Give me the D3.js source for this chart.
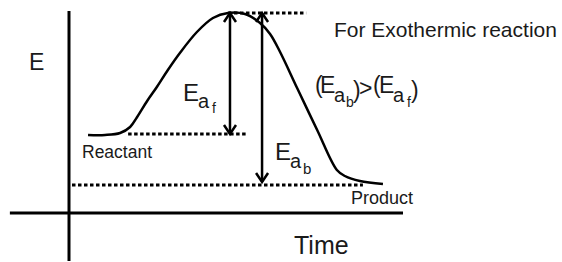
<!DOCTYPE html>
<html>
<head>
<meta charset="utf-8">
<script src="https://cdn.jsdelivr.net/npm/d3@7"></script>
<style>
  body { margin: 0; background: #fff; }
  text { font-family: "Liberation Sans", Arial, sans-serif; fill: #1a1a1a; }
</style>
</head>
<body>
<div class="chart"></div>
<script>
// energy profile (time, energy)
var curveTime   = [5.7, 10.8, 15.3, 18.3, 20.4, 23.4, 26.3, 29.6, 33.2, 38.3, 43.1, 47.6, 52.7, 57.2, 60.2, 63.2, 68.3, 74.3, 80.2, 82.6, 87.1, 94];
var curveEnergy = [39, 39, 40, 43, 48, 56, 63, 71.5, 80, 90.5, 97.5, 100, 99.5, 95, 89.5, 80.5, 62.5, 41.5, 21.5, 18.5, 16, 14.5];

// levels: name, energy, time span of the dotted line
var levelNames  = ['peak', 'reactant', 'product'];
var levelEnergy = [100, 39.5, 14];
var levelFrom   = [47.6, 17.7, 0.9];
var levelTo     = [71, 53.6, 88];

// activation energy arrows: time, from energy, to energy
var arrowNames  = ['Ea_f', 'Ea_b'];
var arrowTime   = [48.2, 57.8];
var arrowTop    = [100, 100];
var arrowBottom = [39.5, 15.5];

// axis extents
var xAxisSpan = [-17.7, 100];
var yAxisSpan = [-24, 101];

var W = 562, H = 262;
var svg = d3.select('.chart').append('svg').attr('width', W).attr('height', H);

var x = d3.scaleLinear().domain([0, 100]).range([69, 403]);
var y = d3.scaleLinear().domain([0, 100]).range([213, 13]);

// axes
svg.append('line').attr('x1', x(0)).attr('x2', x(0))
    .attr('y1', y(yAxisSpan[1])).attr('y2', y(yAxisSpan[0]))
    .attr('stroke', '#000').attr('stroke-width', 3);
svg.append('line').attr('x1', x(xAxisSpan[0])).attr('x2', x(xAxisSpan[1]))
    .attr('y1', y(0)).attr('y2', y(0))
    .attr('stroke', '#000').attr('stroke-width', 3);

// dotted levels
svg.selectAll('.level').data(levelNames).enter().append('line')
    .attr('class', 'level')
    .attr('x1', (d, i) => x(levelFrom[i])).attr('x2', (d, i) => x(levelTo[i]))
    .attr('y1', (d, i) => y(levelEnergy[i])).attr('y2', (d, i) => y(levelEnergy[i]))
    .attr('stroke', '#000').attr('stroke-width', 3).attr('stroke-dasharray', '3.5,2.5');

// curve
var pts = curveTime.map((t, i) => [t, curveEnergy[i]]);
var line = d3.line().x(d => x(d[0])).y(d => y(d[1])).curve(d3.curveCatmullRom);
svg.append('path').attr('d', line(pts))
    .attr('fill', 'none').attr('stroke', '#000').attr('stroke-width', 2.5);

// double arrows
var head = 9, half = 6;
arrowNames.forEach(function(n, i) {
    var ax = x(arrowTime[i]), y1 = y(arrowTop[i]), y2 = y(arrowBottom[i]);
    var g = svg.append('g').attr('fill', 'none').attr('stroke', '#000').attr('stroke-width', 2.5);
    g.append('line').attr('x1', ax).attr('x2', ax).attr('y1', y1).attr('y2', y2);
    g.append('path').attr('d', `M${ax - half},${y1 + head}L${ax},${y1}L${ax + half},${y1 + head}`);
    g.append('path').attr('d', `M${ax - half},${y2 - head}L${ax},${y2}L${ax + half},${y2 - head}`);
});

// labels
function label(txt, tx, ty, size) {
    svg.append('text').attr('x', tx).attr('y', ty).style('font-size', size + 'px').text(txt);
}
// one text element built from pieces [txt, x, y, size]
function multi(parts) {
    var t = svg.append('text');
    parts.forEach(p => t.append('tspan').attr('x', p[1]).attr('y', p[2])
        .style('font-size', p[3] + 'px').text(p[0]));
}
label('E', 29, 70, 23);
label('Time', 294, 254, 25);
label('For Exothermic reaction', 334, 37, 21);
label('Reactant', 82, 158, 17.5);
label('Product', 351, 204, 18);

multi([['E', 183, 101, 24], ['a', 198, 108, 20], ['f', 212, 113, 14]]);
multi([['E', 275, 160, 24], ['a', 290, 168, 20], ['b', 303, 174, 15]]);
multi([['(', 315, 93, 23], ['E', 320, 93, 23], ['a', 334, 102, 20], ['b', 346, 107, 14],
       [')', 353, 98, 23], ['>', 359, 96, 23], ['(', 373, 93, 23], ['E', 379, 93, 23],
       ['a', 393, 102, 20], ['f', 407, 107, 14], [')', 411, 98, 23]]);
</script>
</body>
</html>
